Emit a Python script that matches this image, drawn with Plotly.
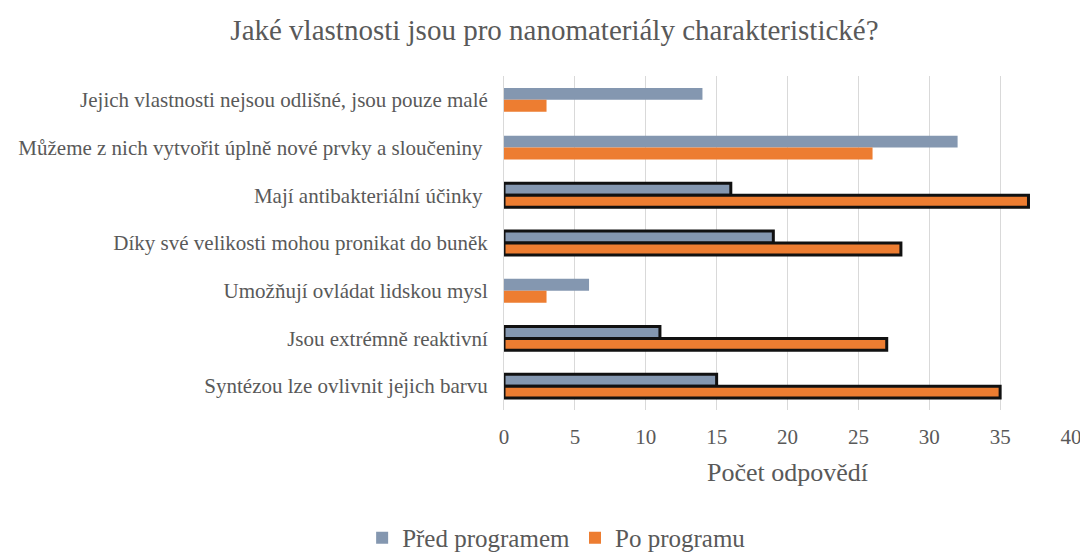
import plotly.graph_objects as go

categories = [
    "Jejich vlastnosti nejsou odlišné, jsou pouze malé",
    "Můžeme z nich vytvořit úplně nové prvky a sloučeniny ",
    "Mají antibakteriální účinky ",
    "Díky své velikosti mohou pronikat do buněk",
    "Umožňují ovládat lidskou mysl",
    "Jsou extrémně reaktivní",
    "Syntézou lze ovlivnit jejich barvu",
]
pred = [14, 32, 16, 19, 6, 11, 15]
po = [3, 26, 37, 28, 3, 27, 35]
correct = [False, False, True, True, False, True, True]

font_family = "Liberation Serif"
outline_w = [3 if c else 0 for c in correct]

fig = go.Figure()
fig.add_trace(go.Bar(
    y=categories, x=pred, orientation="h", name="Před programem",
    marker=dict(color="#8497B0", line=dict(color="#111111", width=outline_w)),
))
fig.add_trace(go.Bar(
    y=categories, x=po, orientation="h", name="Po programu",
    marker=dict(color="#ED7D31", line=dict(color="#111111", width=outline_w)),
))

# page body has an 8px margin, so the figure sits 8px right/down in the window
fig.update_layout(
    width=1080, height=545,
    barmode="group", bargap=0.5, bargroupgap=0,
    plot_bgcolor="white", paper_bgcolor="white",
    font=dict(family=font_family, color="#595959", size=21),
    title=dict(text="Jaké vlastnosti jsou pro nanomateriály charakteristické?",
               x=0.506, xanchor="center", y=1 - 22 / 545, yanchor="middle",
               font=dict(size=29, color="#595959")),
    margin=dict(l=496, r=17, t=68, b=143, autoexpand=False),
    legend=dict(orientation="h", xref="container", yref="paper",
                x=0.508, xanchor="center", y=-0.383, yanchor="middle",
                font=dict(size=25), itemwidth=30, traceorder="normal"),
    showlegend=True,
)
fig.update_xaxes(range=[0, 40], dtick=5, showgrid=True, gridcolor="#d9d9d9",
                 gridwidth=1, zeroline=False, tickfont=dict(size=21),
                 ticks="", ticklen=0, automargin=False, ticklabelstandoff=12,
                 title=dict(text="Počet odpovědí", font=dict(size=26), standoff=14))
fig.update_yaxes(autorange="reversed", showgrid=False, tickfont=dict(size=21),
                 ticks="", ticklabelstandoff=11, showline=True, linecolor="#d9d9d9",
                 automargin=False)

fig.write_html("out.html")
